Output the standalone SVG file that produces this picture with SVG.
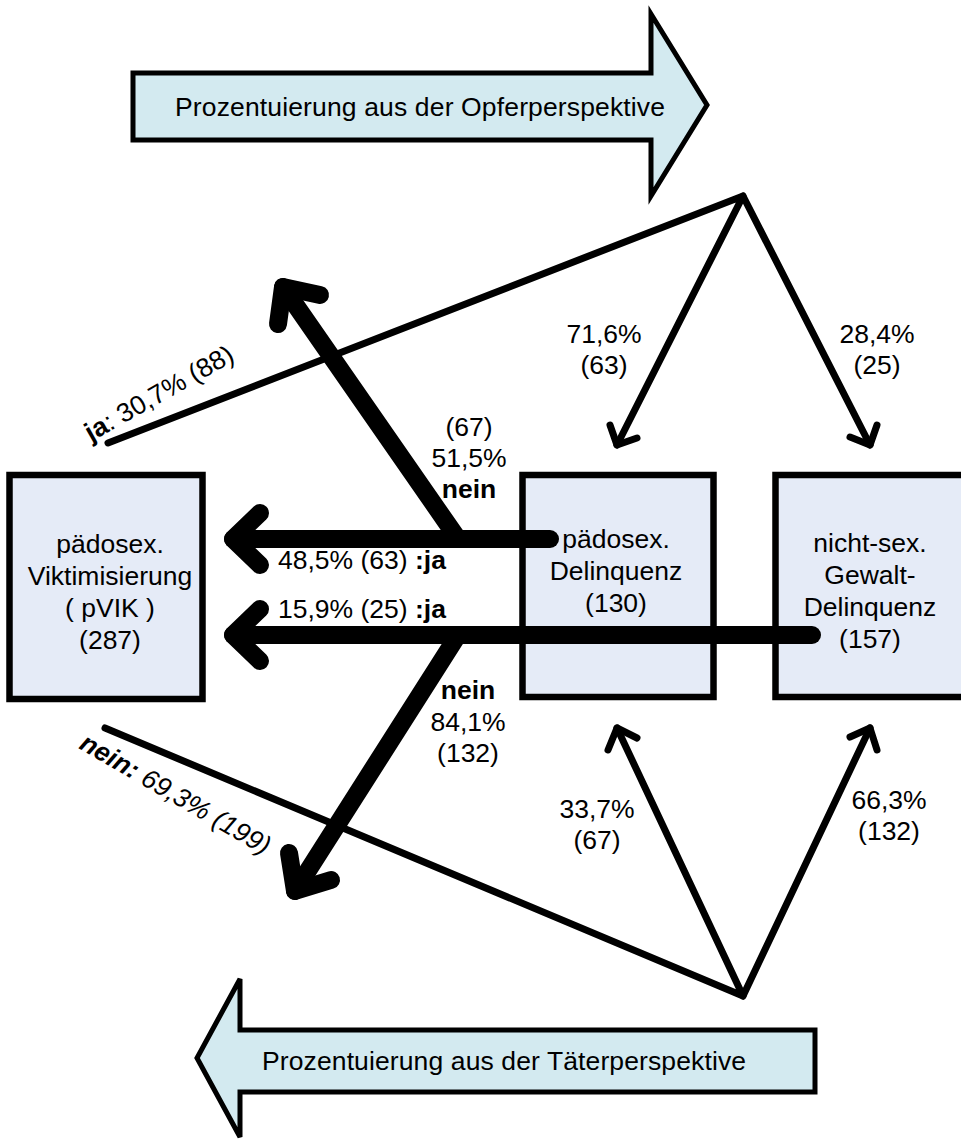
<svg xmlns="http://www.w3.org/2000/svg" width="961" height="1140" viewBox="0 0 961 1140">
<defs>
<style>
.t{font-family:"Liberation Sans",Arial,sans-serif;font-size:26.5px;fill:#000}
.c{text-anchor:middle}
.b{font-weight:bold}
.box{fill:#e5ebf7;stroke:#000;stroke-width:6.5}
.big{fill:#d3eaf0;stroke:#000;stroke-width:5;stroke-linejoin:miter}
.thin{stroke:#000;stroke-width:7;fill:none;stroke-linecap:round;stroke-linejoin:round}
.thick{stroke:#000;stroke-width:18;fill:none;stroke-linecap:round;stroke-linejoin:round}
</style>
</defs>
<rect width="961" height="1140" fill="#fff"/>
<g id="arrow-opfer">
<polygon class="big" points="133,73 651,73 651,14 707,105 651,196 651,140 133,140"/>
<text class="t" x="175" y="116" textLength="490">Prozentuierung aus der Opferperspektive</text>
</g>
<g id="arrow-taeter">
<polygon class="big" points="815,1030 815,1092 240,1092 240,1137 197,1058 240,979 240,1030"/>
<text class="t" x="262" y="1070" textLength="484">Prozentuierung aus der Täterperspektive</text>
</g>
<g id="node-pvik">
<rect class="box" x="9.5" y="475" width="193" height="224"/>
<text class="t c" x="110" y="553">pädosex.</text>
<text class="t c" x="110" y="585">Viktimisierung</text>
<text class="t c" x="110" y="617">( pVIK )</text>
<text class="t c" x="110" y="649">(287)</text>
</g>
<g id="node-paedo-del">
<rect class="box" x="522.5" y="475" width="191" height="222"/>
<text class="t c" x="616" y="548">pädosex.</text>
<text class="t c" x="616" y="580">Delinquenz</text>
<text class="t c" x="616" y="612">(130)</text>
</g>
<g id="node-gewalt">
<rect class="box" x="775.5" y="475" width="200" height="222"/>
<text class="t c" x="870" y="552">nicht-sex.</text>
<text class="t c" x="870" y="584">Gewalt-</text>
<text class="t c" x="870" y="616">Delinquenz</text>
<text class="t c" x="870" y="648">(157)</text>
</g>
<g id="connectors">
<polyline class="thin" points="108,443 743,196 617,445"/>
<polyline class="thin" points="743,196 870,445"/>
<polyline class="thin" points="610,425 617,445 637,438"/>
<polyline class="thin" points="850,437 870,445 877,425"/>
<polyline class="thin" points="105,728 743,996 617,728"/>
<polyline class="thin" points="743,996 870,728"/>
<polyline class="thin" points="608,750 617,728 637,738"/>
<polyline class="thin" points="850,737 870,728 877,750"/>
<line class="thick" x1="458" y1="539" x2="283" y2="287"/>
<polyline class="thick" points="278,324 283,287 320,295"/>
<line class="thick" x1="550" y1="539" x2="233" y2="539"/>
<polyline class="thick" points="260,513 233,539 260,565"/>
<line class="thick" x1="812" y1="635" x2="233" y2="635"/>
<polyline class="thick" points="260,609 233,635 260,661"/>
<line class="thick" x1="458" y1="635" x2="295" y2="891"/>
<polyline class="thick" points="289,853 295,891 331,880"/>
</g>
<g id="labels">
<text class="t" transform="translate(91,442) rotate(-29.5)"><tspan class="b">ja</tspan>: 30,7% (88)</text>
<text class="t" font-style="italic" transform="translate(78,748) rotate(30)"><tspan class="b">nein:</tspan> 69,3% (199)</text>
<text class="t c" x="469" y="436">(67)</text>
<text class="t c" x="469" y="467">51,5%</text>
<text class="t c b" x="469" y="498">nein</text>
<text class="t" x="278" y="569">48,5% (63) <tspan class="b">:ja</tspan></text>
<text class="t" x="278" y="618">15,9% (25) <tspan class="b">:ja</tspan></text>
<text class="t c b" x="468" y="699">nein</text>
<text class="t c" x="468" y="731">84,1%</text>
<text class="t c" x="468" y="762">(132)</text>
<text class="t c" x="604" y="343">71,6%</text>
<text class="t c" x="604" y="374">(63)</text>
<text class="t c" x="877" y="343">28,4%</text>
<text class="t c" x="877" y="374">(25)</text>
<text class="t c" x="597" y="818">33,7%</text>
<text class="t c" x="597" y="849">(67)</text>
<text class="t c" x="889" y="809">66,3%</text>
<text class="t c" x="889" y="840">(132)</text>
</g>
</svg>
